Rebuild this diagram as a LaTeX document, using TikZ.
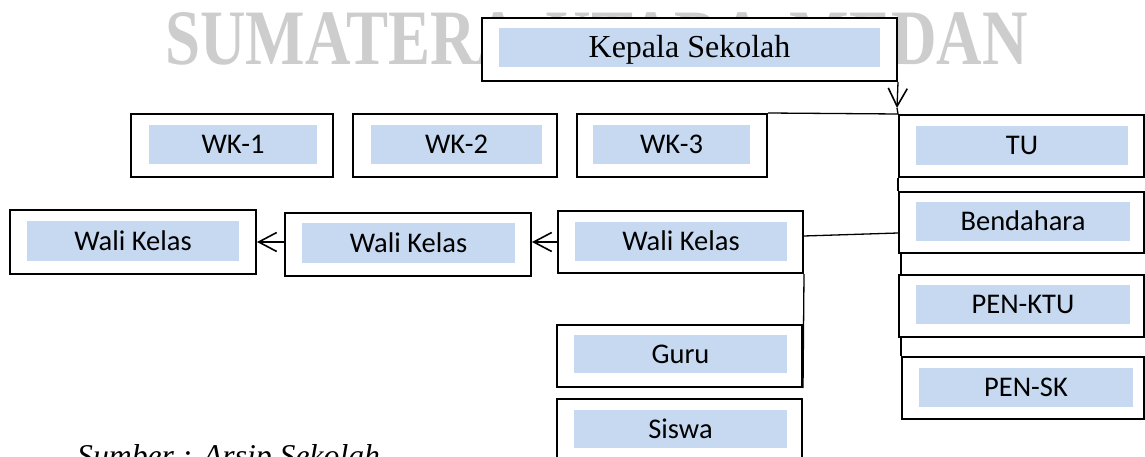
\documentclass[tikz,border=0pt]{standalone}
\usepackage{fontspec}
\setmainfont{Liberation Serif}
\newfontfamily\calibri{Carlito}
\usetikzlibrary{arrows.meta}
\definecolor{boxblue}{RGB}{198,217,241}
\definecolor{wmgray}{RGB}{205,205,205}
\begin{document}
\begin{tikzpicture}[x=1pt,y=-1pt,
  outer/.style={draw=black, line width=2pt, fill=white, inner sep=0pt},
  inner/.style={fill=boxblue, inner sep=0pt, font=\calibri\fontsize{28.5}{30}\selectfont, text height=18.4pt, text depth=0pt},
  conn/.style={line width=1.3pt, draw=black},
  barb/.style={-{Straight Barb[length=18pt,width=19pt,line width=1.6pt]}}
]
\useasboundingbox (0,0) rectangle (1145,457);
\clip (0,0) rectangle (1145,457);

% watermark
\node[anchor=base west, inner sep=0pt, text=wmgray, font=\bfseries\fontsize{78.5}{80}\selectfont] (wm) at (165,65) {\scalebox{0.803}[1]{SUMATERA\hspace{11pt} UTARA\hspace{11pt} MEDAN}};

% Kepala Sekolah
\node[outer, minimum width=415pt, minimum height=63pt] (kepala) at (689.5,49.5) {};
\node[inner, font=\fontsize{32}{34}\selectfont, text height=21pt, minimum width=381pt, minimum height=39pt] (kepalaT) at (689.5,47.5) {Kepala Sekolah};

% WK row
\node[outer, minimum width=202pt, minimum height=63pt] (wka) at (232,145.5) {};
\node[inner, minimum width=168pt, minimum height=39pt] (wkaT) at (233,144.5) {WK-1};
\node[outer, minimum width=204pt, minimum height=63pt] (wkb) at (455,145.5) {};
\node[inner, minimum width=171pt, minimum height=39pt] (wkbT) at (456.5,144.5) {WK-2};
\node[outer, minimum width=190pt, minimum height=63pt] (wkc) at (672,145.5) {};
\node[inner, minimum width=157pt, minimum height=39pt] (wkcT) at (671.5,144.5) {WK-3};

% right column
\node[outer, minimum width=245pt, minimum height=62pt] (tu) at (1021.5,146) {};
\node[inner, minimum width=212pt, minimum height=39pt] (tuT) at (1022,145.5) {TU};
\node[outer, minimum width=245pt, minimum height=61pt] (bend) at (1021.5,222.5) {};
\node[inner, minimum width=214pt, minimum height=39pt] (bendT) at (1023,221.5) {Bendahara};
\node[outer, minimum width=245pt, minimum height=62pt] (penktu) at (1021.5,306) {};
\node[inner, minimum width=214pt, minimum height=39pt] (penktuT) at (1023,304.5) {PEN-KTU};
\node[outer, minimum width=242pt, minimum height=62pt] (pensk) at (1023,388) {};
\node[inner, minimum width=214pt, minimum height=39pt] (penskT) at (1026,387.5) {PEN-SK};

% Wali Kelas row
\node[outer, minimum width=245pt, minimum height=62pt] (wali3) at (680.5,242) {};
\node[inner, minimum width=212pt, minimum height=39pt] (wali3T) at (681,241.5) {Wali Kelas};
\node[outer, minimum width=246pt, minimum height=63pt] (wali2) at (408,244.5) {};
\node[inner, minimum width=213pt, minimum height=40pt] (wali2T) at (408.5,243) {Wali Kelas};
\node[outer, minimum width=246pt, minimum height=64pt] (wali1) at (133,242) {};
\node[inner, minimum width=212pt, minimum height=40pt] (wali1T) at (133,241) {Wali Kelas};

% Guru, Siswa
\node[outer, minimum width=245pt, minimum height=62pt] (guru) at (679.5,356) {};
\node[inner, minimum width=213pt, minimum height=38pt] (guruT) at (680.5,354) {Guru};
\node[outer, minimum width=245pt, minimum height=62pt] (siswa) at (679.5,430) {};
\node[inner, minimum width=213pt, minimum height=38pt] (siswaT) at (680.5,429) {Siswa};

% connectors
\coordinate (tA) at (897,108);
\coordinate (tB) at (898,114);
\draw[conn, barb] (kepala.south east) -- (tA);
\draw[conn] (tA) -- (tu.north west);
\draw[conn] (wkc.north east) -- (tB);
\draw[conn] (tu.south west) -- (bend.north west);
\draw[conn] ([xshift=3pt]bend.south west) -- ([xshift=3pt]penktu.north west);
\draw[conn] ([xshift=3pt]penktu.south west) -- (pensk.north west);
\draw[conn] ([yshift=6pt]wali3.east) -- ([yshift=-10.5pt]bend.west);
\draw[conn] (wali3.south east) -- (guru.south east);
\draw[conn, barb] (wali3.west) -- (wali3.west -| wali2.east);
\draw[conn, barb] ([yshift=2.5pt]wali2.west) -- (wali1.east);

% source note
\node[anchor=base west, inner sep=0pt, font=\itshape\fontsize{31.7}{33}\selectfont] (src) at (77,466) {Sumber : Arsip Sekolah};
\end{tikzpicture}
\end{document}
